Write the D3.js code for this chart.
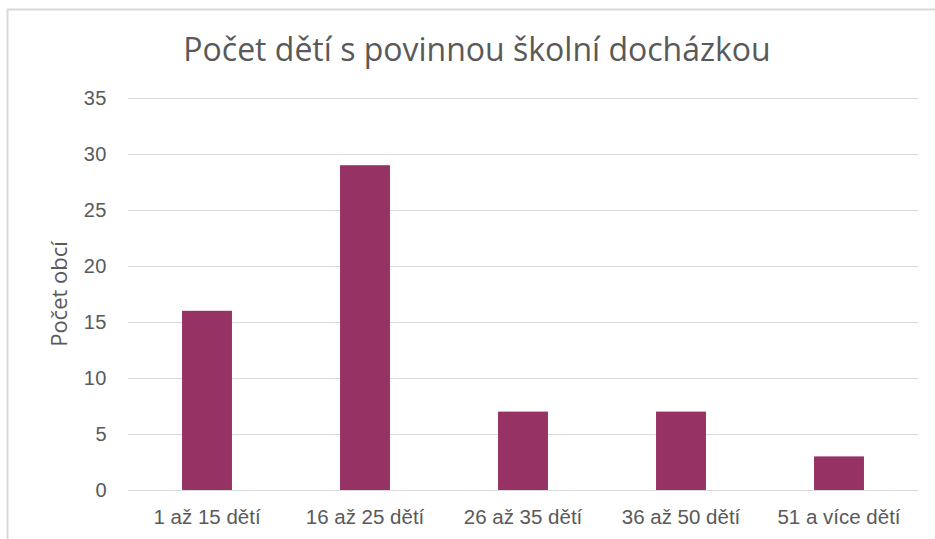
<!DOCTYPE html>
<html lang="cs">
<head>
    <meta charset="UTF-8">
    <title>Počet dětí s povinnou školní docházkou</title>
    <script src="https://d3js.org/d3.v7.min.js"></script>
    <style>
        body { margin: 0; background: #fff; }
        svg { display: block; font-family: "Open Sans", "Liberation Sans", sans-serif; }
        .bar { fill: #963264; }
        .grid line { stroke: #d9d9d9; stroke-width: 1; }
        .axis text { fill: #595959; }
        .y-axis text { font-size: 20px; letter-spacing: 0.5px; }
        .x-axis text { font-size: 20.5px; }
        .title { fill: #595959; font-size: 32px; }
        .ylabel { fill: #595959; font-size: 22px; }
    </style>
</head>
<body>
    <svg width="935" height="539"></svg>
    <script>
        const categories = ["1 až 15 dětí", "16 až 25 dětí", "26 až 35 dětí", "36 až 50 dětí", "51 a více dětí"];
        const values = [16, 29, 7, 7, 3];
        const yTicks = [0, 5, 10, 15, 20, 25, 30, 35];

        const svg = d3.select("svg"),
            margin = {top: 98, right: 17, bottom: 49, left: 128},
            width = +svg.attr("width") - margin.left - margin.right,
            height = +svg.attr("height") - margin.top - margin.bottom,
            g = svg.append("g").attr("transform", `translate(${margin.left},${margin.top})`);

        // chart frame (only top and left edges show in the original)
        svg.append("path")
            .attr("d", "M7.5,539 V9.5 H935")
            .attr("fill", "none")
            .attr("stroke", "#d9d9d9")
            .attr("stroke-width", 2);

        const x = d3.scaleBand()
            .domain(categories)
            .range([0, width])
            .paddingInner(0.684)
            .paddingOuter(0.342);

        const y = d3.scaleLinear()
            .domain([0, 35])
            .range([height, 0]);

        g.append("g")
            .attr("class", "grid")
            .selectAll("line")
            .data(yTicks)
            .enter().append("line")
            .attr("x1", 0)
            .attr("x2", width)
            .attr("y1", d => y(d) + 0.5)
            .attr("y2", d => y(d) + 0.5);

        const yAxis = g.append("g")
            .attr("class", "axis y-axis")
            .call(d3.axisLeft(y).tickValues(yTicks).tickSize(0).tickPadding(21));
        yAxis.select(".domain").remove();

        const xAxis = g.append("g")
            .attr("class", "axis x-axis")
            .attr("transform", `translate(0,${height})`)
            .call(d3.axisBottom(x).tickSize(0).tickPadding(19));
        xAxis.select(".domain").remove();

        g.selectAll(".bar")
            .data(values)
            .enter().append("rect")
            .attr("class", "bar")
            .attr("x", (d, i) => x(categories[i]))
            .attr("y", d => y(d))
            .attr("width", x.bandwidth())
            .attr("height", d => height - y(d));

        svg.append("text")
            .attr("class", "title")
            .attr("x", 477)
            .attr("y", 61)
            .attr("text-anchor", "middle")
            .text("Počet dětí s povinnou školní docházkou");

        svg.append("text")
            .attr("class", "ylabel")
            .attr("transform", "translate(67,294) rotate(-90)")
            .attr("text-anchor", "middle")
            .text("Počet obcí");
    </script>
</body>
</html>
